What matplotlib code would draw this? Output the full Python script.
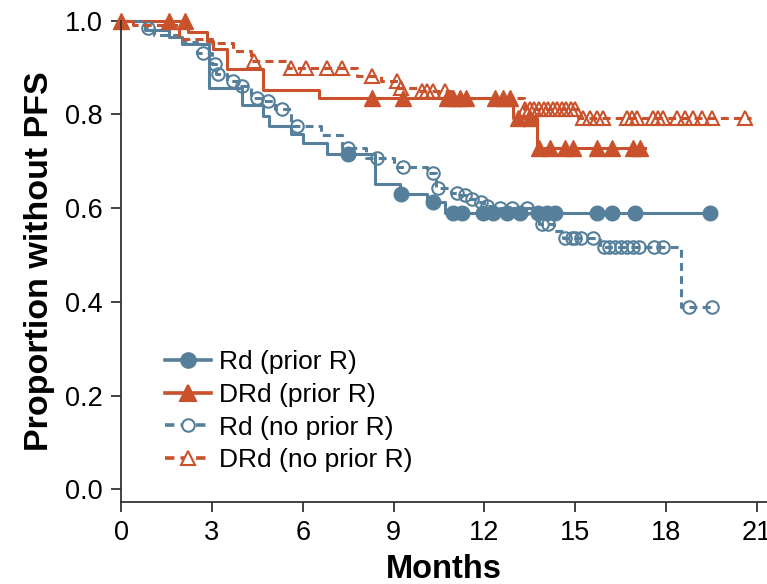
import numpy as np
import matplotlib
matplotlib.use("Agg")
import matplotlib.pyplot as plt

plt.rcParams['font.family'] = ['Liberation Sans', 'DejaVu Sans']

blue = '#557f9a'
orange = '#c9522c'

# Rd (prior R): drop times, survival after each drop, censor times
rd_pr_t = [0.8, 1.6, 2.0, 2.9, 4.0, 4.7, 4.9, 5.6, 6.0, 6.8, 8.4, 9.2, 10.1, 10.7]
rd_pr_s = [0.98, 0.966, 0.95, 0.857, 0.819, 0.797, 0.776, 0.759, 0.738, 0.716,
           0.652, 0.631, 0.612, 0.589]
rd_pr_c = [7.5, 9.25, 10.3, 10.96, 11.26, 11.95, 12.28, 12.74, 13.17, 13.77,
           14.06, 14.33, 15.71, 16.21, 16.97, 19.45]
rd_pr_end = 19.45

# DRd (prior R)
drd_pr_t = [2.2, 2.85, 3.05, 3.5, 4.7, 6.55, 12.95, 13.75]
drd_pr_s = [0.976, 0.957, 0.94, 0.897, 0.853, 0.834, 0.793, 0.729]
drd_pr_c = [0.0, 1.6, 2.1, 8.3, 9.3, 10.75, 10.96, 11.2, 11.4, 12.35, 12.6, 12.85,
            13.1, 13.5, 13.8, 14.16, 14.66, 14.92, 15.71, 16.21, 16.9, 17.13]
drd_pr_end = 17.3

# Rd (no prior R)
rd_np_t = [0.8, 1.1, 2.0, 2.5, 3.0, 3.15, 3.5, 3.9, 4.3, 4.7, 5.1, 5.6, 6.6, 7.3,
           8.1, 9.0, 10.1, 10.4, 10.9, 11.15, 11.4, 11.7, 12.0, 12.4, 13.8, 14.3,
           14.6, 15.8, 18.5]
rd_np_s = [0.985, 0.97, 0.955, 0.932, 0.908, 0.887, 0.872, 0.861, 0.836, 0.829,
           0.812, 0.776, 0.755, 0.729, 0.708, 0.687, 0.674, 0.644, 0.633, 0.627,
           0.62, 0.612, 0.605, 0.6, 0.567, 0.552, 0.537, 0.518, 0.388]
rd_np_c = [0.9, 2.7, 3.1, 3.2, 3.7, 4.0, 4.5, 4.85, 5.3, 5.8, 7.5, 8.45, 9.3, 10.3,
           10.45, 11.1, 11.35, 11.6, 11.9, 12.1, 12.5, 12.9, 13.4, 13.9, 14.1,
           14.65, 14.9, 15.0, 15.2, 15.6, 15.95, 16.1, 16.3, 16.5, 16.7, 16.9,
           17.1, 17.6, 17.9, 18.75, 19.5]
rd_np_end = 19.5

# DRd (no prior R)
drd_np_t = [0.4, 1.9, 3.0, 3.7, 4.3, 5.5, 7.8, 8.6, 9.15, 9.8, 10.9, 13.3, 15.1]
drd_np_s = [0.99, 0.96, 0.952, 0.936, 0.915, 0.9, 0.883, 0.872, 0.857, 0.849,
            0.836, 0.812, 0.793]
drd_np_c = [4.4, 5.6, 6.1, 6.8, 7.3, 8.3, 9.1, 9.25, 9.95, 10.1, 10.3, 10.7,
            13.35, 13.5, 13.65, 13.8, 13.95, 14.1, 14.25, 14.4, 14.55, 14.7,
            14.85, 15.0, 15.25, 15.48, 15.71, 15.91, 16.7, 16.87, 17.03, 17.56,
            17.73, 17.89, 18.36, 18.62, 18.88, 19.2, 19.53, 20.6]
drd_np_end = 20.8

dash = (0, (2.6, 1.7))
series = [
    ('Rd (prior R)', rd_pr_t, rd_pr_s, rd_pr_c, rd_pr_end, blue, '-', 'o', True, 10.5),
    ('DRd (prior R)', drd_pr_t, drd_pr_s, drd_pr_c, drd_pr_end, orange, '-', '^', True, 12),
    ('Rd (no prior R)', rd_np_t, rd_np_s, rd_np_c, rd_np_end, blue, dash, 'o', False, 9),
    ('DRd (no prior R)', drd_np_t, drd_np_s, drd_np_c, drd_np_end, orange, dash, '^', False, 10),
]

fig = plt.figure(figsize=(7.67, 5.84), dpi=100)
ax = fig.add_axes([0.1578, 0.1409, 0.8422, 0.8237])

handles = []
for label, t, s, c, end, col, ls, mk, filled, ms in series:
    tt = np.r_[0, t, end]
    ss = np.r_[1.0, s, s[-1]]
    ax.step(tt, ss, where='post', color=col, lw=2.2, ls=ls, clip_on=False)
    # censor marks sit on the curve level at that time
    idx = np.searchsorted(tt, c, side='right') - 1
    cy = ss[idx]
    if filled:
        ax.plot(c, cy, ls='none', marker=mk, ms=ms, color=col, mec=col, clip_on=False)
    else:
        ax.plot(c, cy, ls='none', marker=mk, ms=ms, color=col, mfc='none', mec=col,
                mew=1.5, clip_on=False)
    h, = ax.plot([], [], color=col, lw=2.6, ls=ls, marker=mk,
                 ms=ms, mfc=col if filled else 'white', mec=col,
                 mew=1.5, label=label)
    handles.append(h)

ax.set_xlim(0, 21.33)
ax.set_ylim(-0.0265, 1.0)
ax.set_xticks(np.arange(0, 22, 3))
ax.set_yticks(np.arange(0, 1.01, 0.2))
ax.set_yticklabels(['0.0', '0.2', '0.4', '0.6', '0.8', '1.0'])
for sp in ['top', 'right']:
    ax.spines[sp].set_visible(False)
for sp in ['left', 'bottom']:
    ax.spines[sp].set_linewidth(1.3)
    ax.spines[sp].set_color('#333333')
ax.tick_params(length=7, width=1.3, color='#333333', labelsize=19.5, pad=6)

ax.set_xlabel('Months', fontsize=23.5, fontweight='bold', labelpad=6)
ax.set_ylabel('Proportion without PFS', fontsize=24.5, fontweight='bold', labelpad=7)

ax.legend(handles=handles, loc='upper left', bbox_to_anchor=(0.068, 0.315),
          frameon=False, fontsize=19, borderpad=0, handlelength=1.75,
          handletextpad=0.3, labelspacing=0.33, numpoints=1, borderaxespad=0)

fig.savefig('out.png', dpi=100)
